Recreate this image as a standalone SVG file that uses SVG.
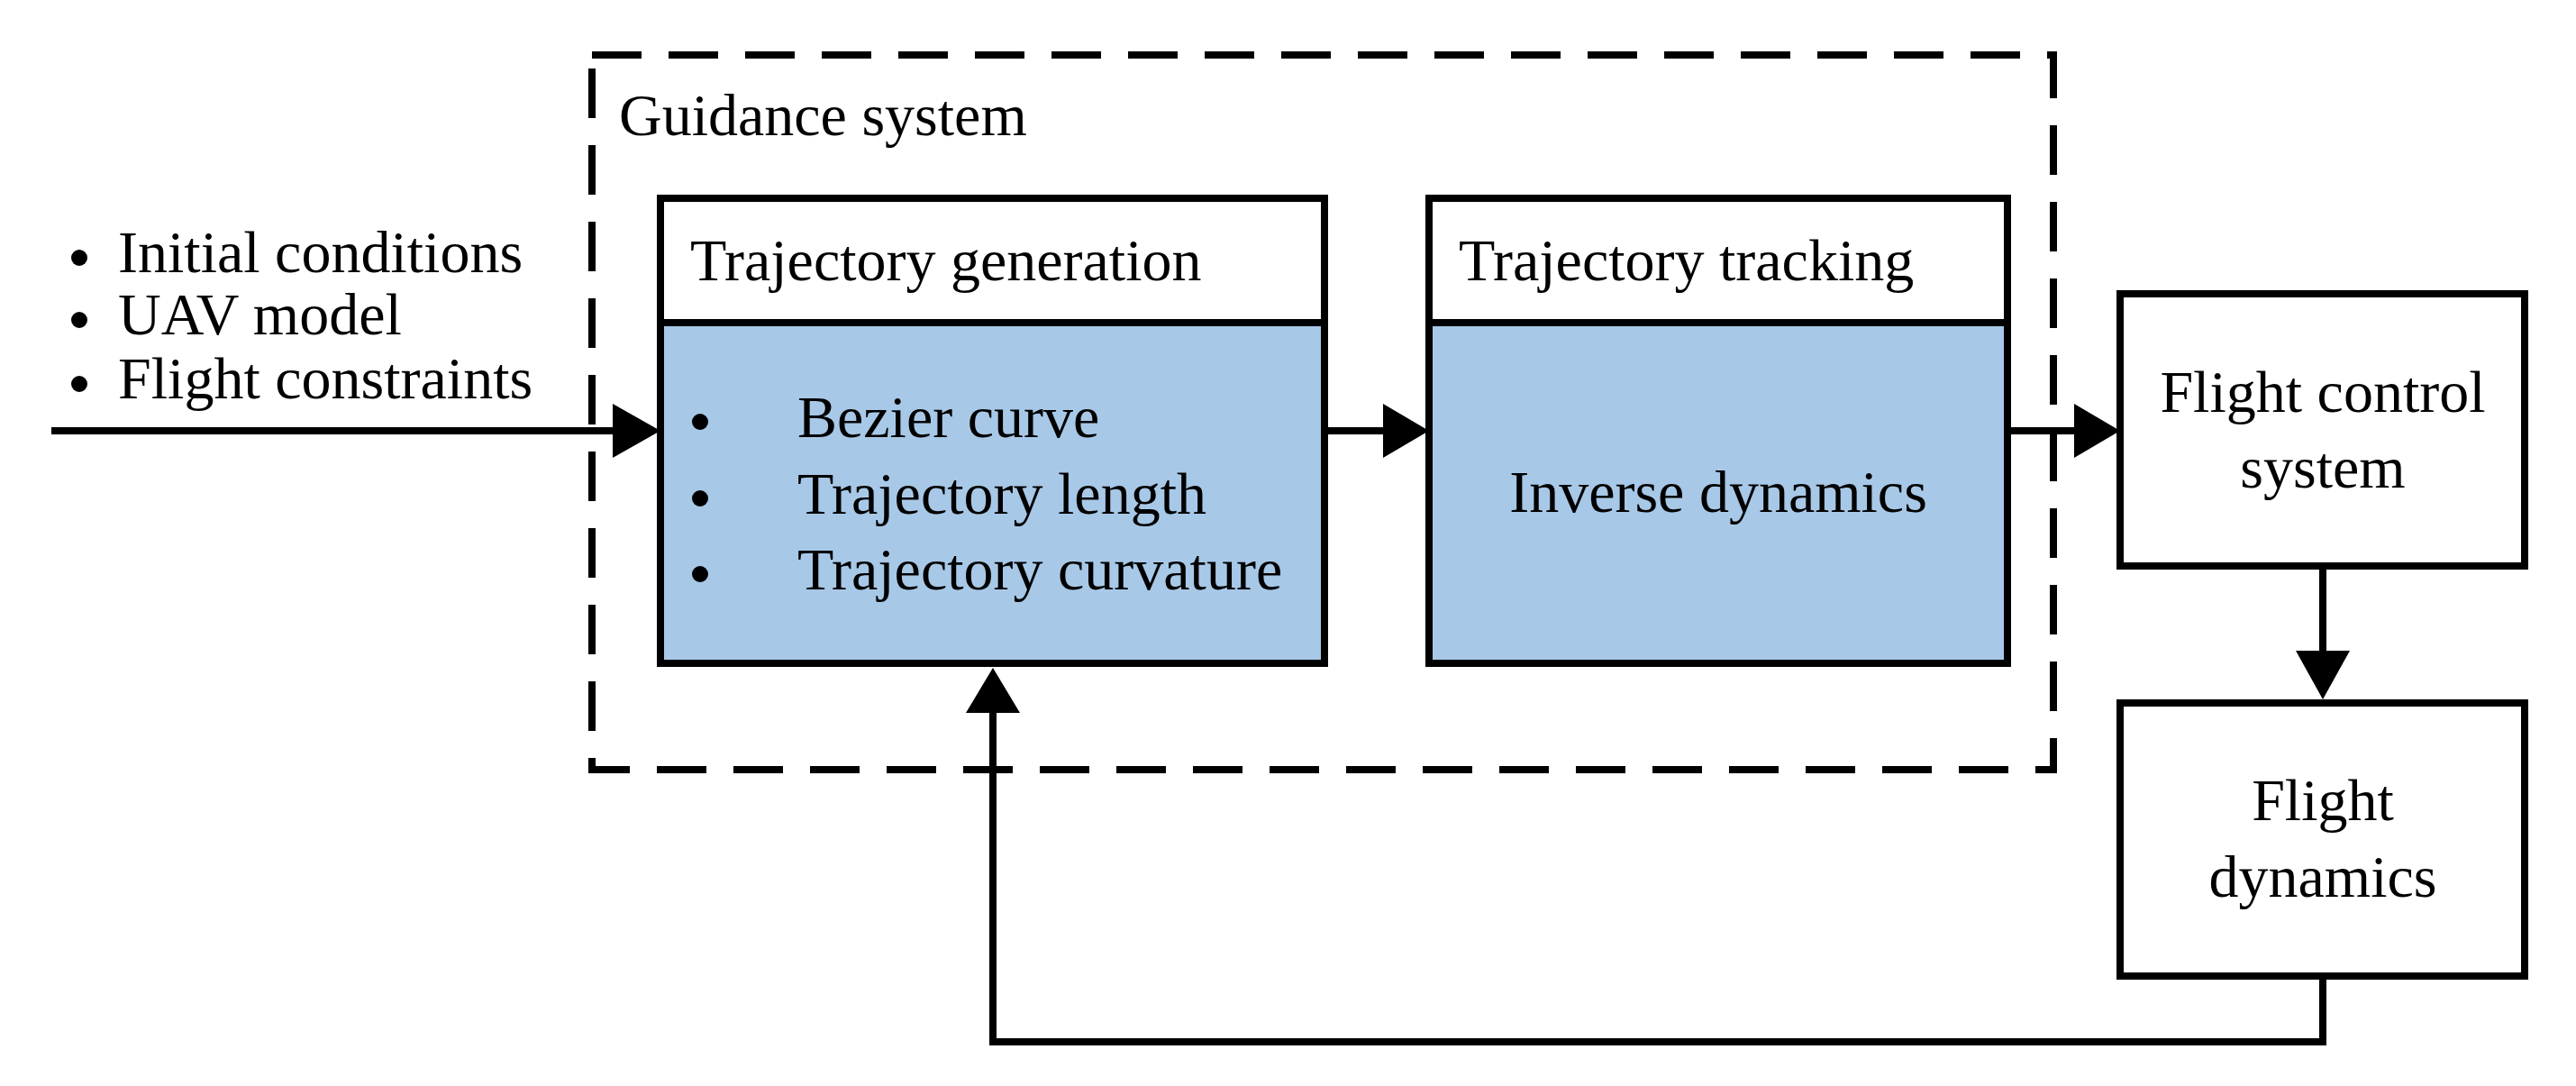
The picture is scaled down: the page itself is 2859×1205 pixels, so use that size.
<svg xmlns="http://www.w3.org/2000/svg" width="2859" height="1205" viewBox="0 0 2859 1205">
<defs>
<style>
text{font-family:"Liberation Serif","Times New Roman",serif;font-size:66px;fill:#000}
.box{fill:#fff;stroke:#000;stroke-width:8}
.blue{fill:#A8C8E7;stroke:#000;stroke-width:8}
.ln{fill:none;stroke:#000;stroke-width:8}
.c{text-anchor:middle}
</style>
</defs>
<rect width="2859" height="1205" fill="#fff"/>
<g id="guidance">
<rect x="657" y="61" width="1622" height="793" fill="none" stroke="#000" stroke-width="8" stroke-dasharray="55,30"/>
<text x="687" y="150">Guidance system</text>
</g>
<g id="inputs">
<circle cx="88" cy="286" r="9"/><text x="131" y="302">Initial conditions</text>
<circle cx="88" cy="355" r="9"/><text x="131" y="371">UAV model</text>
<circle cx="88" cy="426" r="9"/><text x="131" y="442">Flight constraints</text>
</g>
<g id="traj-gen">
<rect class="box" x="733" y="220" width="737" height="516"/>
<rect class="blue" x="733" y="358" width="737" height="378"/>
<text x="766" y="311">Trajectory generation</text>
<circle cx="777" cy="468" r="9"/><text x="885" y="485">Bezier curve</text>
<circle cx="777" cy="553" r="9"/><text x="885" y="570">Trajectory length</text>
<circle cx="777" cy="637" r="9"/><text x="885" y="654">Trajectory curvature</text>
</g>
<g id="traj-track">
<rect class="box" x="1586" y="220" width="642" height="516"/>
<rect class="blue" x="1586" y="358" width="642" height="378"/>
<text x="1619" y="311">Trajectory tracking</text>
<text class="c" x="1907" y="568">Inverse dynamics</text>
</g>
<g id="fcs">
<rect class="box" x="2353" y="326" width="449" height="302"/>
<text class="c" x="2578" y="457">Flight control</text>
<text class="c" x="2578" y="541">system</text>
</g>
<g id="fd">
<rect class="box" x="2353" y="780" width="449" height="303"/>
<text class="c" x="2578" y="910">Flight</text>
<text class="c" x="2578" y="995">dynamics</text>
</g>
<g id="connectors">
<line class="ln" x1="57" y1="478" x2="690" y2="478"/>
<polygon points="680,448 733,478 680,508"/>
<line class="ln" x1="1470" y1="478" x2="1545" y2="478"/>
<polygon points="1535,448 1586,478 1535,508"/>
<line class="ln" x1="2228" y1="478" x2="2310" y2="478"/>
<polygon points="2302,448 2353,478 2302,508"/>
<line class="ln" x1="2578" y1="628" x2="2578" y2="730"/>
<polygon points="2548,722 2578,776 2608,722"/>
<polyline class="ln" points="2578,1083 2578,1156 1102,1156 1102,785"/>
<polygon points="1072,791 1102,741 1132,791"/>
</g>
</svg>
